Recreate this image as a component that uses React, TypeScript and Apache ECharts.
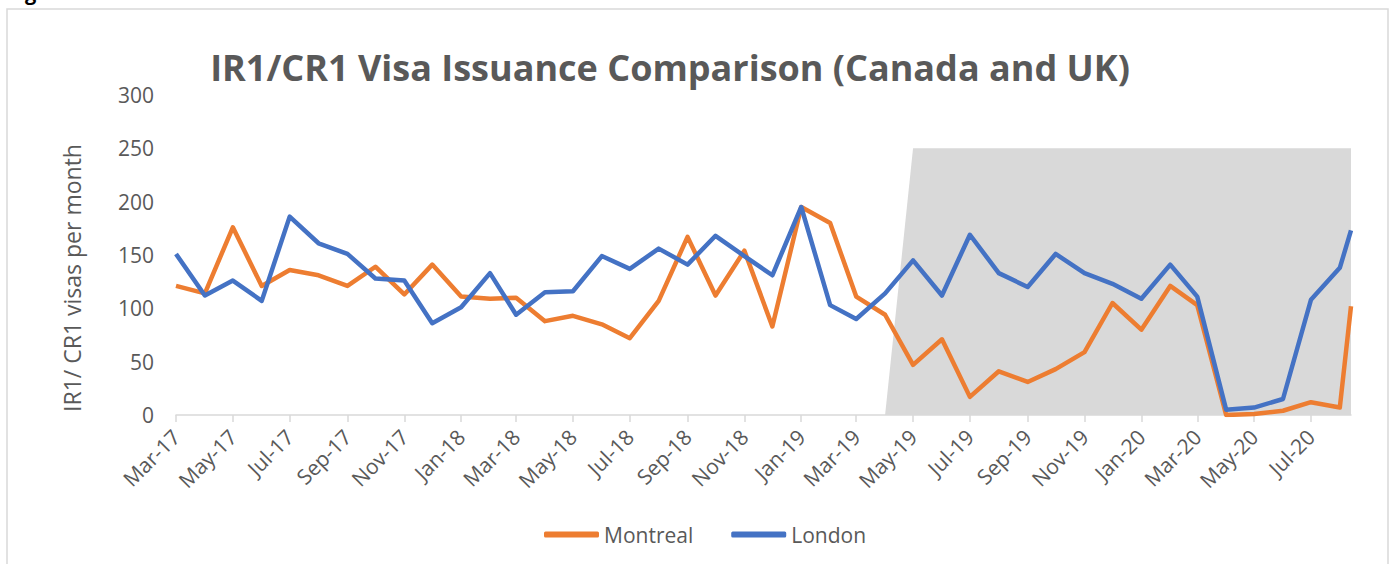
import React, { useEffect, useRef } from "react";
import * as echarts from "echarts";

// Observation dates (monthly, last point is a partial month in August 2020)
const dates = [
  "2017-03-01", "2017-04-01", "2017-05-01", "2017-06-01", "2017-07-01", "2017-08-01", "2017-09-01", "2017-10-01", "2017-11-01", "2017-12-01",
  "2018-01-01", "2018-02-01", "2018-03-01", "2018-04-01", "2018-05-01", "2018-06-01", "2018-07-01", "2018-08-01", "2018-09-01", "2018-10-01", "2018-11-01", "2018-12-01",
  "2019-01-01", "2019-02-01", "2019-03-01", "2019-04-01", "2019-05-01", "2019-06-01", "2019-07-01", "2019-08-01", "2019-09-01", "2019-10-01", "2019-11-01", "2019-12-01",
  "2020-01-01", "2020-02-01", "2020-03-01", "2020-04-01", "2020-05-01", "2020-06-01", "2020-07-01", "2020-08-01", "2020-08-13",
];

const montreal = [
  121, 114, 176, 121, 136, 131, 121, 139, 113, 141,
  111, 109, 110, 88, 93, 85, 72, 107, 167, 112, 154, 83,
  195, 180, 111, 94, 47, 71, 17, 41, 31, 43, 59, 105,
  80, 121, 103, 0, 1, 4, 12, 7, 102,
];

const london = [
  151, 112, 126, 107, 186, 161, 151, 128, 126, 86,
  101, 133, 94, 115, 116, 149, 137, 156, 141, 168, 149, 131,
  195, 103, 90, 114, 145, 112, 169, 133, 120, 151, 133, 123,
  109, 141, 111, 5, 7, 15, 108, 138, 173,
];

// Shaded period (grey area)
const shadeDates = ["2019-04-01", "2019-05-01", "2020-08-13"];
const shadeValues = [0, 250, 250];

// Axis tick labels
const tickDates = [
  "2017-03-01", "2017-05-01", "2017-07-01", "2017-09-01", "2017-11-01",
  "2018-01-01", "2018-03-01", "2018-05-01", "2018-07-01", "2018-09-01", "2018-11-01",
  "2019-01-01", "2019-03-01", "2019-05-01", "2019-07-01", "2019-09-01", "2019-11-01",
  "2020-01-01", "2020-03-01", "2020-05-01", "2020-07-01",
];
const tickLabels = [
  "Mar-17", "May-17", "Jul-17", "Sep-17", "Nov-17",
  "Jan-18", "Mar-18", "May-18", "Jul-18", "Sep-18", "Nov-18",
  "Jan-19", "Mar-19", "May-19", "Jul-19", "Sep-19", "Nov-19",
  "Jan-20", "Mar-20", "May-20", "Jul-20",
];

const title = "IR1/CR1 Visa Issuance Comparison (Canada and UK)";
const yAxisName = "IR1/ CR1 visas per month";

const ORIGIN = Date.UTC(2017, 2, 1);
const dayOf = (s: string) => {
  const [y, m, d] = s.split("-").map(Number);
  return Math.round((Date.UTC(y, m - 1, d) - ORIGIN) / 86400000);
};

const FONT = "'Open Sans', 'Noto Sans', sans-serif";
const GREY_TEXT = "#595959";

export default function App() {
  const ref = useRef<HTMLDivElement>(null);
  useEffect(() => {
    if (!ref.current) return;
    const chart = echarts.init(ref.current, undefined, { renderer: "svg" });
    const tickDays = tickDates.map(dayOf);
    const xMax = dayOf(dates[dates.length - 1]);
    chart.setOption({
      animation: false,
      backgroundColor: "#ffffff",
      textStyle: { fontFamily: FONT },
      grid: { left: 176, right: 41, top: 95, bottom: 149, containLabel: false },
      legend: {
        data: ["Montreal", "London"],
        left: 539,
        top: 519,
        icon: "roundRect",
        itemWidth: 55,
        itemHeight: 6,
        itemGap: 38,
        textStyle: { fontSize: 21, color: GREY_TEXT, fontFamily: FONT },
      },
      xAxis: {
        type: "value",
        min: 0,
        max: xMax,
        splitLine: { show: false },
        axisLine: { show: true, lineStyle: { color: "#d9d9d9", width: 1.5 } },
        axisTick: {
          show: true,
          customValues: tickDays,
          length: 7,
          lineStyle: { color: "#d9d9d9", width: 1.5 },
        },
        axisLabel: {
          customValues: tickDays,
          rotate: 45,
          margin: 18,
          fontSize: 21,
          color: GREY_TEXT,
          fontFamily: FONT,
          formatter: (v: number) => {
            const i = tickDays.indexOf(Math.round(v));
            return i >= 0 ? tickLabels[i] : "";
          },
        },
      },
      yAxis: {
        type: "value",
        min: 0,
        max: 300,
        interval: 50,
        axisLine: { show: false },
        axisTick: { show: false },
        splitLine: { show: false },
        axisLabel: { fontSize: 21, color: GREY_TEXT, margin: 22, fontFamily: FONT },
      },
      series: [
        {
          name: "Shade",
          type: "line",
          data: shadeDates.map((d, i) => [dayOf(d), shadeValues[i]]),
          symbol: "none",
          lineStyle: { width: 0, opacity: 0 },
          areaStyle: { color: "#D9D9D9", opacity: 1 },
          silent: true,
          z: 1,
        },
        {
          name: "Montreal",
          type: "line",
          data: dates.map((d, i) => [dayOf(d), montreal[i]]),
          symbol: "none",
          color: "#ED7D31",
          lineStyle: { width: 4.5, color: "#ED7D31", join: "round" },
          z: 3,
        },
        {
          name: "London",
          type: "line",
          data: dates.map((d, i) => [dayOf(d), london[i]]),
          symbol: "none",
          color: "#4472C4",
          lineStyle: { width: 4.5, color: "#4472C4", join: "round" },
          z: 4,
        },
      ],
      graphic: [
        {
          type: "rect",
          shape: { x: 7, y: 9, width: 1381, height: 580 },
          style: { fill: "none", stroke: "#d9d9d9", lineWidth: 1.5 },
          silent: true,
        },
        {
          type: "text",
          x: 8,
          y: -8,
          style: {
            text: "Figure",
            font: `bold 20px ${FONT}`,
            fill: "#000000",
            align: "left",
            verticalAlign: "middle",
          },
          silent: true,
        },
        {
          type: "text",
          x: 670,
          y: 67,
          style: {
            text: title,
            font: `bold 36px ${FONT}`,
            fill: GREY_TEXT,
            align: "center",
            verticalAlign: "middle",
          },
          silent: true,
        },
        {
          type: "text",
          x: 72,
          y: 278,
          rotation: Math.PI / 2,
          style: {
            text: yAxisName,
            font: `23px ${FONT}`,
            fill: GREY_TEXT,
            align: "center",
            verticalAlign: "middle",
          },
          silent: true,
        },
      ],
    });
    return () => chart.dispose();
  }, []);
  return (
    <div
      ref={ref}
      style={{ position: "fixed", left: 0, top: 0, width: 1392, height: 564, background: "#fff" }}
    />
  );
}
